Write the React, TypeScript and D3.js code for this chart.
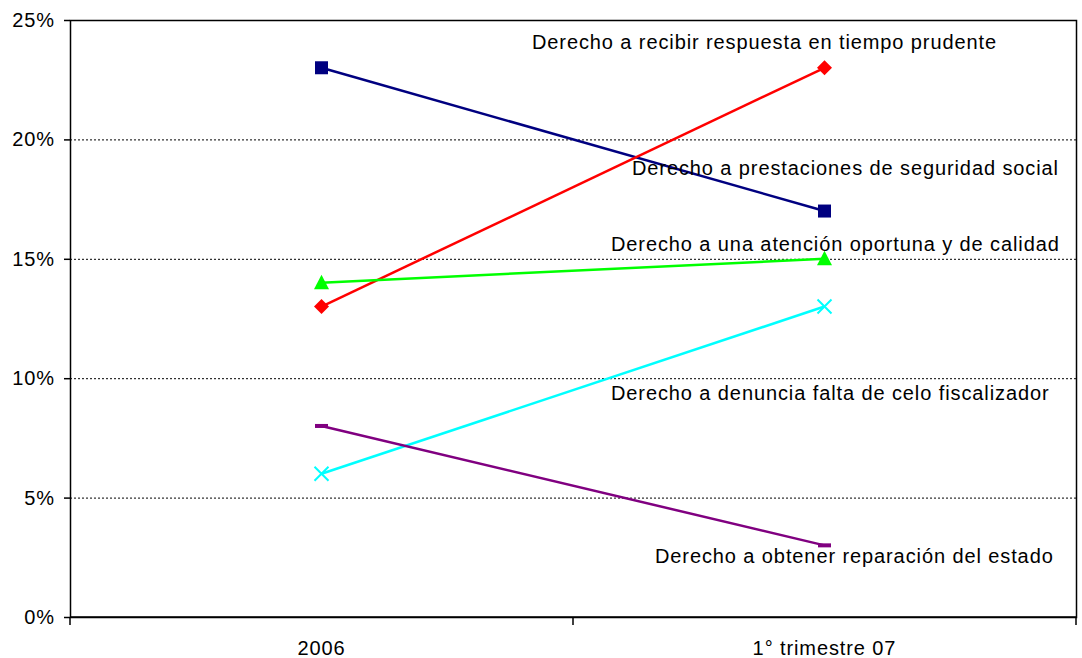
import React, { useEffect, useRef } from 'react';
import * as d3 from 'd3';

// categories and series values (percent)
const categories = ['2006', '1° trimestre 07'];
const seriesNames = [
  'Derecho a prestaciones de seguridad social',
  'Derecho a recibir respuesta en tiempo prudente',
  'Derecho a una atención oportuna y de calidad',
  'Derecho a denuncia falta de celo fiscalizador',
  'Derecho a obtener reparación del estado',
];
const seguridadSocial = [23, 17];
const tiempoPrudente = [13, 23];
const atencionOportuna = [14, 15];
const celoFiscalizador = [6, 13];
const reparacionEstado = [8, 3];
const yTicks = [0, 5, 10, 15, 20, 25];

const colors = ['#000080', '#ff0000', '#00ff00', '#00ffff', '#800080'];
const markers = ['square', 'diamond', 'triangle', 'x', 'dash'];
// label anchor: x in px from left of plot, y in percent units
const labelPos: [number, number][] = [
  [562, 18.8],
  [462, 24.08],
  [541, 15.62],
  [541, 9.38],
  [585, 2.55],
];

export default function App() {
  const ref = useRef<SVGSVGElement>(null);

  useEffect(() => {
    const svg = d3.select(ref.current);
    svg.selectAll('*').remove();

    const margin = { top: 20, right: 6, bottom: 41, left: 70 };
    const W = 1082, H = 658;
    const width = W - margin.left - margin.right;
    const height = H - margin.top - margin.bottom;
    const font = '"Liberation Sans", Arial, sans-serif';
    const fs = 20;
    const ls = 0.9;

    const g = svg.append('g').attr('transform', `translate(${margin.left},${margin.top})`);

    const x = d3.scaleBand().domain(categories).range([0, width]);
    const y = d3.scaleLinear().domain([0, 25]).range([height, 0]);

    // gridlines
    g.selectAll('line.grid')
      .data(yTicks.filter(t => t > 0 && t < 25))
      .enter().append('line')
      .attr('x1', 0).attr('x2', width)
      .attr('y1', d => y(d) + 0.5).attr('y2', d => y(d) + 0.5)
      .attr('stroke', '#000').attr('stroke-width', 1)
      .attr('stroke-dasharray', '2,2');

    // frame
    g.append('rect')
      .attr('x', 0.5).attr('y', 0.5)
      .attr('width', width).attr('height', height)
      .attr('fill', 'none').attr('stroke', '#000').attr('stroke-width', 1.5);

    // y axis
    const yAxis = g.append('g')
      .call(d3.axisLeft(y).tickValues(yTicks).tickFormat(d => `${d}%`).tickSize(6).tickPadding(9));
    yAxis.select('.domain').remove();
    yAxis.selectAll('line').attr('stroke-width', 1.5);
    yAxis.selectAll('text').attr('font-family', font).attr('font-size', fs)
      .attr('letter-spacing', ls).attr('fill', '#000');

    // x axis
    const bandEdges = [0, ...categories.map(c => (x(c) as number) + x.bandwidth())];
    const xAxis = g.append('g').attr('transform', `translate(0,${height})`);
    xAxis.append('line').attr('x1', 0).attr('x2', width).attr('stroke', '#000').attr('stroke-width', 1.5);
    xAxis.selectAll('line.tick')
      .data(bandEdges).enter().append('line')
      .attr('x1', d => d).attr('x2', d => d)
      .attr('y1', 0).attr('y2', 8)
      .attr('stroke', '#000').attr('stroke-width', 1.5);
    xAxis.selectAll('text')
      .data(categories).enter().append('text')
      .attr('x', d => (x(d) as number) + x.bandwidth() / 2)
      .attr('y', 38)
      .attr('text-anchor', 'middle')
      .attr('font-family', font).attr('font-size', fs).attr('letter-spacing', ls)
      .text(d => d);

    const allSeries = [seguridadSocial, tiempoPrudente, atencionOportuna, celoFiscalizador, reparacionEstado];
    const cx = (i: number) => (x(categories[i]) as number) + x.bandwidth() / 2;

    const line = d3.line<number>().x((d, i) => cx(i)).y(d => y(d));

    allSeries.forEach((vals, s) => {
      g.append('path')
        .attr('d', line(vals))
        .attr('fill', 'none')
        .attr('stroke', colors[s])
        .attr('stroke-width', 2.5);

      vals.forEach((v, i) => {
        const px = cx(i), py = y(v);
        const m = markers[s];
        if (m === 'square') {
          g.append('rect').attr('x', px - 6.5).attr('y', py - 6.5).attr('width', 13).attr('height', 13).attr('fill', colors[s]);
        } else if (m === 'diamond') {
          g.append('path').attr('d', `M${px},${py - 7.5}L${px + 7.5},${py}L${px},${py + 7.5}L${px - 7.5},${py}Z`).attr('fill', colors[s]);
        } else if (m === 'triangle') {
          g.append('path').attr('d', `M${px},${py - 8}L${px + 7.5},${py + 6.5}L${px - 7.5},${py + 6.5}Z`).attr('fill', colors[s]);
        } else if (m === 'x') {
          g.append('path').attr('d', `M${px - 7},${py - 7}L${px + 7},${py + 7}M${px - 7},${py + 7}L${px + 7},${py - 7}`)
            .attr('stroke', colors[s]).attr('stroke-width', 2);
        } else if (m === 'dash') {
          g.append('rect').attr('x', px - 6.5).attr('y', py - 2).attr('width', 13).attr('height', 4).attr('fill', colors[s]);
        }
      });

      g.append('text')
        .attr('x', labelPos[s][0])
        .attr('y', y(labelPos[s][1]))
        .attr('dy', '0.35em')
        .attr('font-family', font).attr('font-size', fs).attr('letter-spacing', ls).attr('fill', '#000')
        .text(seriesNames[s]);
    });
  }, []);

  return (
    <svg ref={ref} width={1082} height={658} style={{ position: 'absolute', left: 0, top: 0, background: '#fff' }} />
  );
}
